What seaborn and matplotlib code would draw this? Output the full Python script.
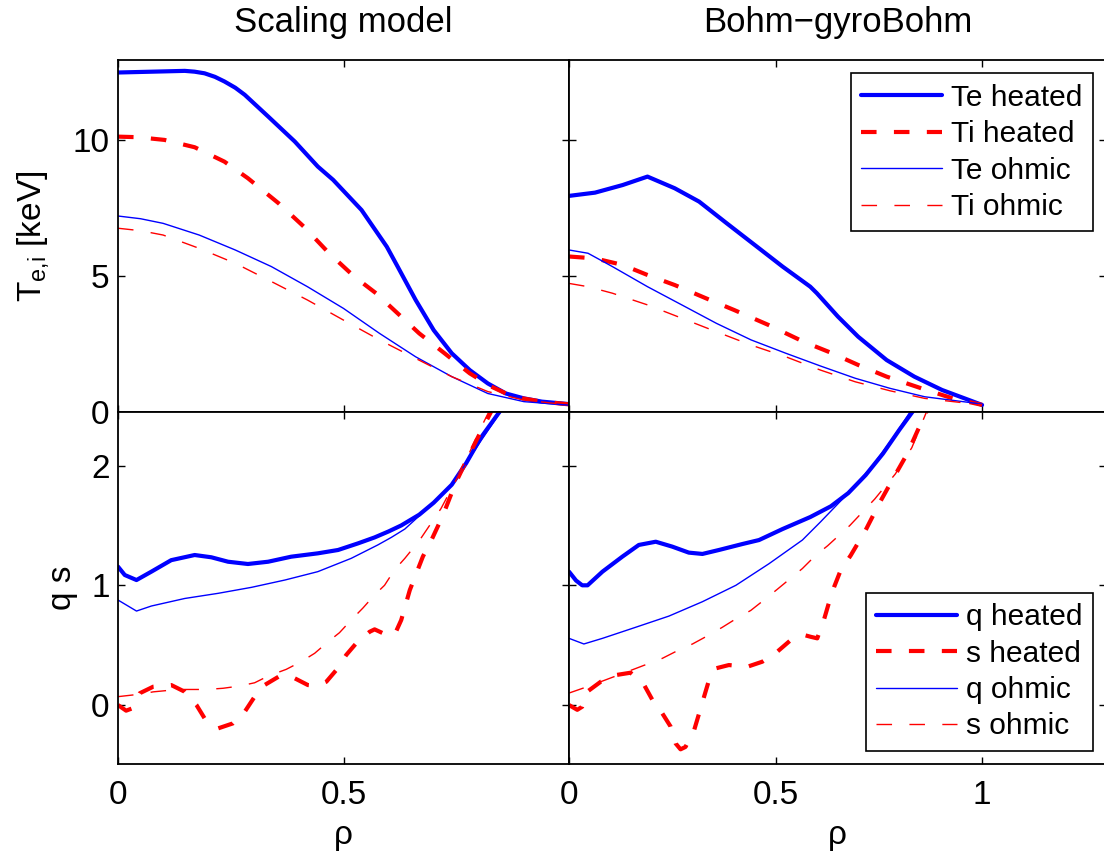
import matplotlib
matplotlib.use("Agg")
import matplotlib.pyplot as plt
import pandas as pd
import seaborn as sns

# ---------------- profile data ----------------
# Scaling model, temperatures [keV]
rho_te_h_sc = [0, .05, .10, .148, .17, .192, .215, .236, .26, .281, .333, .392, .443, .477, .54, .596, .62, .66, .70, .74, .78, .82, .86, .90, .94, 1.0]
te_h_sc = [12.48, 12.50, 12.52, 12.54, 12.51, 12.45, 12.32, 12.15, 11.92, 11.66, 10.86, 9.94, 9.02, 8.53, 7.42, 6.07, 5.34, 4.11, 3.00, 2.15, 1.53, 1.04, 0.67, 0.49, 0.37, 0.28]
rho_ti_h_sc = [0, .044, .103, .17, .236, .288, .356, .412, .468, .524, .572, .62, .668, .724, .78, .828, .876, .94, 1.0]
ti_h_sc = [10.12, 10.10, 10.0, 9.73, 9.20, 8.59, 7.67, 6.81, 5.83, 4.97, 4.36, 3.62, 2.88, 2.15, 1.41, 0.92, 0.55, 0.37, 0.27]
rho_ohm_sc = [0, .05, .10, .18, .26, .34, .42, .50, .58, .66, .74, .82, .90, 1.0]
te_o_sc = [7.20, 7.10, 6.93, 6.50, 5.95, 5.34, 4.60, 3.80, 2.88, 2.02, 1.29, 0.67, 0.37, 0.24]
ti_o_sc = [6.75, 6.66, 6.50, 6.01, 5.46, 4.79, 4.11, 3.37, 2.64, 1.96, 1.29, 0.74, 0.43, 0.25]

# Bohm-gyroBohm, temperatures [keV]
rho_te_h_bg = [0, .063, .13, .19, .256, .315, .382, .45, .517, .584, .60, .651, .70, .769, .836, .903, 1.0]
te_h_bg = [7.94, 8.06, 8.34, 8.65, 8.22, 7.73, 6.93, 6.13, 5.34, 4.60, 4.36, 3.50, 2.76, 1.90, 1.29, 0.80, 0.25]
rho_ti_h_bg = [0, .063, .13, .19, .256, .332, .40, .483, .567, .634, .70, .769, .853, .929, 1.0]
ti_h_bg = [5.71, 5.64, 5.40, 5.03, 4.66, 4.17, 3.74, 3.19, 2.58, 2.17, 1.72, 1.29, 0.86, 0.49, 0.25]
rho_ohm_bg = [0, .046, .105, .19, .273, .357, .441, .525, .609, .693, .777, .861, 1.0]
te_o_bg = [5.95, 5.83, 5.34, 4.60, 3.93, 3.25, 2.64, 2.15, 1.68, 1.23, 0.86, 0.55, 0.28]
ti_o_bg = [4.72, 4.60, 4.36, 3.93, 3.44, 2.94, 2.45, 2.02, 1.53, 1.10, 0.77, 0.49, 0.25]

# Scaling model, safety factor q and magnetic shear s
rho_q_h_sc = [0, .015, .041, .074, .118, .17, .207, .244, .288, .333, .384, .443, .488, .532, .569, .60, .628, .668, .70, .74, .772, .804, .85]
q_h_sc = [1.156, 1.086, 1.044, 1.114, 1.21, 1.253, 1.234, 1.197, 1.178, 1.197, 1.239, 1.267, 1.295, 1.35, 1.40, 1.45, 1.50, 1.59, 1.69, 1.84, 2.02, 2.23, 2.47]
rho_s_h_sc = [0, .018, .03, .048, .078, .118, .148, .174, .192, .222, .255, .281, .303, .325, .362, .392, .421, .44, .462, .484, .506, .528, .558, .569, .588, .613, .628, .647, .676, .695, .72, .748, .78, .804, .83]
s_h_sc = [0.0, -0.047, -0.03, 0.098, 0.153, 0.167, 0.111, 0.0, -0.111, -0.195, -0.153, -0.056, 0.07, 0.167, 0.25, 0.223, 0.167, 0.16, 0.195, 0.292, 0.418, 0.515, 0.612, 0.632, 0.599, 0.585, 0.71, 0.96, 1.24, 1.378, 1.58, 1.85, 2.10, 2.28, 2.47]
rho_q_o_sc = [0, .041, .074, .148, .222, .296, .37, .443, .517, .576, .606, .636, .70, .74, .80, .85]
q_o_sc = [0.877, 0.785, 0.827, 0.89, 0.933, 0.983, 1.044, 1.114, 1.225, 1.337, 1.40, 1.47, 1.69, 1.84, 2.18, 2.46]
rho_s_o_sc = [0, .052, .078, .133, .159, .196, .233, .27, .303, .333, .373, .406, .436, .466, .491, .517, .543, .569, .591, .613, .636, .669, .716, .764, .80, .825]
s_o_sc = [0.07, 0.092, 0.11, 0.13, 0.13, 0.13, 0.14, 0.159, 0.186, 0.242, 0.298, 0.362, 0.432, 0.529, 0.604, 0.71, 0.81, 0.92, 1.0, 1.128, 1.225, 1.378, 1.64, 1.98, 2.28, 2.47]

# Bohm-gyroBohm, safety factor q and magnetic shear s
rho_q_h_bg = [0, .017, .032, .045, .081, .129, .169, .21, .25, .29, .323, .363, .42, .46, .517, .584, .634, .676, .718, .76, .80, .836]
q_h_bg = [1.114, 1.04, 1.0, 1.0, 1.114, 1.239, 1.337, 1.364, 1.323, 1.273, 1.262, 1.295, 1.345, 1.378, 1.47, 1.57, 1.66, 1.77, 1.92, 2.10, 2.30, 2.47]
rho_s_h_bg = [0, .02, .032, .044, .077, .113, .149, .182, .202, .226, .246, .258, .27, .282, .303, .315, .327, .339, .355, .387, .432, .468, .504, .537, .569, .585, .601, .617, .63, .642, .658, .682, .718, .752, .786, .819, .845, .868]
s_h_bg = [0.0, -0.04, -0.014, 0.111, 0.195, 0.25, 0.27, 0.167, 0.042, -0.07, -0.18, -0.32, -0.37, -0.35, -0.209, -0.07, 0.07, 0.209, 0.306, 0.334, 0.32, 0.362, 0.445, 0.543, 0.585, 0.57, 0.557, 0.71, 0.863, 0.988, 1.128, 1.25, 1.46, 1.69, 1.90, 2.10, 2.30, 2.47]
rho_q_o_bg = [0, .036, .081, .161, .242, .323, .404, .484, .565, .609, .676, .735, .786, .83]
q_o_bg = [0.557, 0.51, 0.557, 0.649, 0.743, 0.863, 1.0, 1.18, 1.378, 1.53, 1.77, 2.0, 2.24, 2.47]
rho_s_o_bg = [0, .05, .10, .15, .194, .226, .266, .299, .339, .371, .404, .44, .472, .504, .537, .565, .597, .626, .68, .74, .79, .83, .868]
s_o_bg = [0.10, 0.16, 0.225, 0.29, 0.348, 0.39, 0.46, 0.51, 0.585, 0.649, 0.72, 0.79, 0.877, 0.966, 1.06, 1.14, 1.25, 1.33, 1.50, 1.72, 1.93, 2.15, 2.47]

titles = ["Scaling model", "Bohm\u2212gyroBohm"]
temp_labels = ["Te heated", "Ti heated", "Te ohmic", "Ti ohmic"]
qs_labels = ["q heated", "s heated", "q ohmic", "s ohmic"]

# ---------------- style ----------------
sns.set_theme(style="white")
plt.rcParams.update({
    "font.family": ["Liberation Sans", "DejaVu Sans"],
    "mathtext.fontset": "custom",
    "mathtext.rm": "Liberation Sans",
    "mathtext.it": "Liberation Sans:italic",
    "mathtext.bf": "Liberation Sans:bold",
    "lines.scale_dashes": False,
    "lines.solid_joinstyle": "round",
    "lines.dash_joinstyle": "round",
    "axes.edgecolor": "black",
    "axes.linewidth": 1.3,
    "axes.facecolor": "white",
    "xtick.color": "black",
    "ytick.color": "black",
    "text.color": "black",
    "axes.labelcolor": "black",
    "xtick.direction": "in",
    "ytick.direction": "in",
})

BLUE = (0, 0, 1)
RED = (1, 0, 0)
THICK, THIN = 3.0, 1.0
DASH = (0, (11.2, 12.5))
FS = 24

W, H = 1104, 856
fig = plt.figure(figsize=(W / 100, H / 100), dpi=100)


def frac_box(x0, x1, ytop, ybot):
    return [x0 / W, 1 - ybot / H, (x1 - x0) / W, (ybot - ytop) / H]


ax_tl = fig.add_axes(frac_box(118, 569, 60, 411.7))
ax_tr = fig.add_axes(frac_box(569, 1106, 60, 411.7))
ax_bl = fig.add_axes(frac_box(118, 569, 411.7, 764.3))
ax_br = fig.add_axes(frac_box(569, 1106, 411.7, 764.3))


def curve(ax, x, y, color, lw, dashed, label):
    df = pd.DataFrame({"rho": x, "val": y})
    ls = DASH if dashed else "-"
    sns.lineplot(data=df, x="rho", y="val", ax=ax, color=color, linewidth=lw,
                 linestyle=ls, label=label, sort=False, estimator=None)


def panel(ax, data, labels):
    styles = [(BLUE, THICK, False), (RED, THICK, True), (BLUE, THIN, False), (RED, THIN, True)]
    for (x, y), (c, lw, d), lab in zip(data, styles, labels):
        curve(ax, x, y, c, lw, d, lab)


panel(ax_tl, [(rho_te_h_sc, te_h_sc), (rho_ti_h_sc, ti_h_sc), (rho_ohm_sc, te_o_sc), (rho_ohm_sc, ti_o_sc)], temp_labels)
panel(ax_tr, [(rho_te_h_bg, te_h_bg), (rho_ti_h_bg, ti_h_bg), (rho_ohm_bg, te_o_bg), (rho_ohm_bg, ti_o_bg)], temp_labels)
panel(ax_bl, [(rho_q_h_sc, q_h_sc), (rho_s_h_sc, s_h_sc), (rho_q_o_sc, q_o_sc), (rho_s_o_sc, s_o_sc)], qs_labels)
panel(ax_br, [(rho_q_h_bg, q_h_bg), (rho_s_h_bg, s_h_bg), (rho_q_o_bg, q_o_bg), (rho_s_o_bg, s_o_bg)], qs_labels)

for ax in (ax_tl, ax_tr, ax_bl, ax_br):
    ax.set_xlabel("")
    ax.set_ylabel("")
    ax.grid(False)
    for sp in ax.spines.values():
        sp.set_visible(True)
        sp.set_color("black")
        sp.set_linewidth(1.3)
    ax.tick_params(axis="both", which="major", bottom=True, top=True, left=True, right=True,
                   labelsize=FS, direction="in", length=5, width=1.0)
    ax.tick_params(axis="x", pad=11)
    ax.tick_params(axis="y", pad=6)

for ax in (ax_tl, ax_bl):
    ax.set_xlim(0, 1)
    ax.set_xticks([0, 0.5, 1])
for ax in (ax_tr, ax_br):
    ax.set_xlim(0, 1.3)
    ax.set_xticks([0, 0.5, 1])

for ax in (ax_tl, ax_tr):
    ax.set_ylim(0, 12.94)
    ax.set_yticks([0, 5, 10])
    ax.tick_params(labelbottom=False)
for ax in (ax_bl, ax_br):
    ax.set_ylim(-0.495, 2.45)
    ax.set_yticks([0, 1, 2])
for ax in (ax_tr, ax_br):
    ax.tick_params(labelleft=False)

ax_tl.set_yticklabels(["0", "5", "10"])
ax_bl.set_yticklabels(["0", "1", "2"])
ax_bl.set_xticklabels(["0", "0.5", ""])
ax_br.set_xticklabels(["0", "0.5", "1"])

# axis labels
ax_tl.set_ylabel(r"T$_{\rm e{,}i}$ [keV]", fontsize=FS)
ax_tl.yaxis.set_label_coords(-0.148, 0.5)
ax_bl.set_ylabel("q s", fontsize=FS)
ax_bl.yaxis.set_label_coords(-0.089, 0.5)
for ax in (ax_bl, ax_br):
    ax.set_xlabel("\u03c1", fontsize=FS)
    ax.xaxis.set_label_coords(0.5, -0.158)

# column titles
fig.text((118 + 569) / 2 / W, 1 - 31.7 / H, titles[0], ha="center", va="baseline", fontsize=25)
fig.text((569 + 1106) / 2 / W, 1 - 31.7 / H, titles[1], ha="center", va="baseline", fontsize=25)

# legends
for ax, loc in ((ax_tr, "upper right"), (ax_br, "lower right")):
    leg = ax.legend(loc=loc, fontsize=21.5, frameon=True, fancybox=False, shadow=False,
                    edgecolor="black", framealpha=1, handlelength=2.7, handletextpad=0.3,
                    labelspacing=0.28, borderpad=0.35, borderaxespad=0.45)
    leg.get_frame().set_linewidth(1.2)
    leg.get_frame().set_facecolor("white")
for ax in (ax_tl, ax_bl):
    if ax.get_legend() is not None:
        ax.get_legend().remove()

fig.savefig("out.png", dpi=100, facecolor="white")
